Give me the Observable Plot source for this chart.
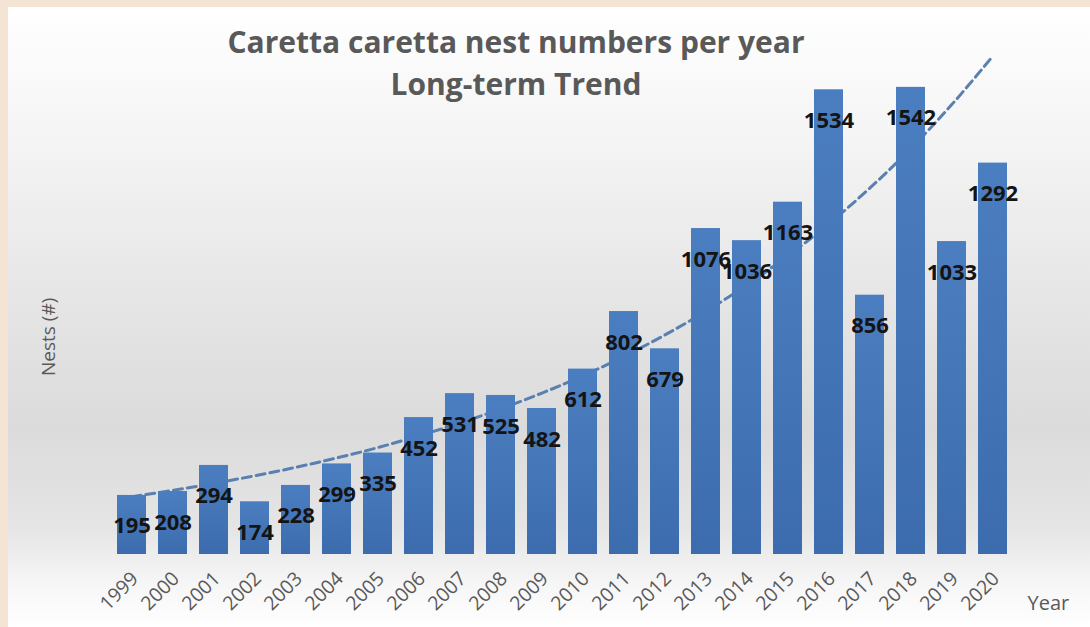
<!DOCTYPE html>
<html>
<head>
<meta charset="utf-8">
<script src="https://cdn.jsdelivr.net/npm/d3@7"></script>
<script src="https://cdn.jsdelivr.net/npm/@observablehq/plot@0.6"></script>
<style>
  html, body { margin: 0; padding: 0; }
  #wrap { position: relative; width: 1090px; height: 627px; background: #f3e4d6; overflow: hidden; }
  #panel { position: absolute; left: 8px; top: 7px; right: 0; bottom: 0;
    background: linear-gradient(to bottom, #ffffff 0%, #f5f5f5 20%, #e4e4e4 50%, #dbdbdb 68%, #e5e5e5 84%, #f6f6f6 93%, #ffffff 100%); }
  #chart { position: absolute; left: 0; top: 0; }
</style>
</head>
<body>
<div id="wrap"><div id="panel"></div><div id="chart"></div></div>
<script>
const years = ["1999","2000","2001","2002","2003","2004","2005","2006","2007","2008","2009","2010","2011","2012","2013","2014","2015","2016","2017","2018","2019","2020"];
const nests = [195,208,294,174,228,299,335,452,531,525,482,612,802,679,1076,1036,1163,1534,856,1542,1033,1292];
// Exponential trend line values at each year
const trend = [191,212,235,260,288,319,353,392,434,481,533,590,654,725,803,890,986,1092,1210,1341,1486,1646];
const titleLines = ["Caretta caretta nest numbers per year", "Long-term Trend"];
const yLabel = "Nests (#)";
const xLabel = "Year";

const data = years.map((y, i) => ({year: y, nests: nests[i], trend: trend[i]}));

const grey = "#595959";
const plot = Plot.plot({
  width: 1090,
  height: 627,
  marginLeft: 98,
  marginRight: 63,
  marginTop: 39,
  marginBottom: 73,
  style: {background: "transparent", fontFamily: "'Open Sans', sans-serif"},
  x: {domain: years, padding: 0.29, label: null},
  y: {domain: [0, 1700], axis: null},
  marks: [
    Plot.line(data, {x: "year", y: "trend", stroke: "#5a80b0", strokeWidth: 3, strokeDasharray: "9,5", curve: "monotone-x"}),
    Plot.barY(data, {x: "year", y: "nests", fill: "url(#barGrad)"}),
    Plot.text(data, {x: "year", y: "nests", text: d => String(d.nests), dy: 31, fontSize: 22, fontWeight: "bold", fill: "#141414", lineAnchor: "middle"}),
    Plot.axisX({tickRotate: -45, tickSize: 0, tickPadding: 21, dx: 3, fontSize: 19.5, color: grey, label: null}),
    Plot.text([titleLines[0]], {frameAnchor: "top", text: d => d, dx: -47, dy: -8, fontSize: 30, fontWeight: "bold", fill: grey, lineAnchor: "top"}),
    Plot.text([titleLines[1]], {frameAnchor: "top", text: d => d, dx: -47, dy: 34, fontSize: 30, fontWeight: "bold", fill: grey, lineAnchor: "top"}),
    Plot.text([yLabel], {frameAnchor: "left", text: d => d, rotate: -90, dx: -50, dy: 79, fontSize: 19, fill: grey}),
    Plot.text([xLabel], {frameAnchor: "bottom-right", text: d => d, textAnchor: "start", lineAnchor: "bottom", dx: 0, dy: 55, fontSize: 20, fill: grey})
  ]
});

const ns = "http://www.w3.org/2000/svg";
const defs = document.createElementNS(ns, "defs");
defs.innerHTML = `<linearGradient id="barGrad" x1="0" y1="0" x2="0" y2="1">
  <stop offset="0%" stop-color="#4b7ec0"/>
  <stop offset="100%" stop-color="#3c6cae"/>
</linearGradient>`;
plot.insertBefore(defs, plot.firstChild);
document.getElementById("chart").appendChild(plot);
</script>
</body>
</html>
